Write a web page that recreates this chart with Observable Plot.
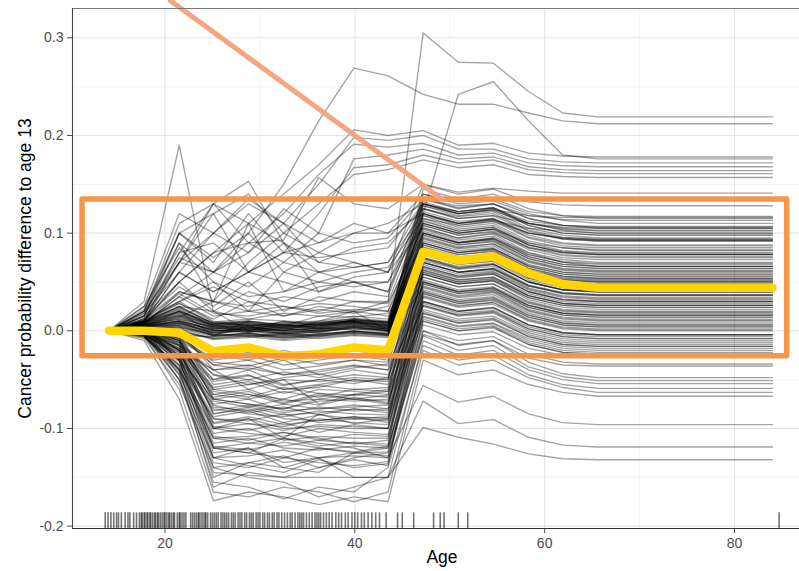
<!DOCTYPE html>
<html><head><meta charset="utf-8">
<script src="https://cdn.jsdelivr.net/npm/d3@7"></script>
<script src="https://cdn.jsdelivr.net/npm/@observablehq/plot@0.6"></script>
<style>body{margin:0;background:#fff;}</style>
</head><body><div id="chart"></div>
<script>
// ICE grid (age values where every curve is evaluated)
const ageGrid = [14.1,17.8,21.5,25.1,28.8,32.5,36.2,39.9,43.5,47.2,50.9,54.6,58.3,61.9,65.6,69.3,73.0,76.6,80.3,84.0];

// Individual conditional expectation curves (difference to age 13)
const iceCurves = [
[0,.004,.02,-.005,.01,.005,.015,.02,.03,.305,.275,.274,.245,.223,.219,.219,.219,.219,.219,.219],
[0,.008,.035,.06,.1,.15,.215,.269,.261,.242,.232,.232,.223,.215,.212,.212,.212,.212,.212,.212],
[0,.01,.05,.08,.11,.14,.17,.206,.2,.205,.19,.192,.182,.179,.178,.178,.178,.178,.178,.178],
[0,.012,.07,.1,.13,.11,.15,.198,.195,.2,.186,.186,.176,.173,.172,.172,.172,.172,.172,.172],
[0,.015,.09,.06,.09,.12,.16,.191,.188,.192,.18,.182,.172,.169,.168,.168,.168,.168,.168,.168],
[0,.02,.11,.13,.09,.07,.1,.176,.18,.186,.176,.178,.168,.165,.164,.164,.164,.164,.164,.164],
[0,.01,.06,.04,.06,.08,.12,.167,.17,.18,.172,.175,.165,.162,.161,.161,.161,.161,.161,.161],
[0,.006,.04,.03,.07,.1,.13,.16,.165,.175,.167,.17,.16,.158,.157,.157,.157,.157,.157,.157],
[0,.005,.01,-.005,.005,0,.01,.02,0,.12,.242,.255,.215,.18,.176,.176,.176,.176,.176,.176],
[0,.03,.19,.02,0,.01,.005,.01,0,.1,.09,.095,.08,.07,.066,.066,.066,.066,.066,.066],
[0,.01,.07,.13,.153,.09,.06,.07,.06,.15,.14,.145,.132,.129,.128,.128,.128,.128,.128,.128],
[0,.01,.05,.08,.09,.093,.157,.13,.125,.15,.142,.146,.143,.141,.141,.141,.141,.141,.141,.141],
[0,.015,.1,.12,.14,.1,.08,.1,.11,.13,.12,.124,.118,.116,.116,.116,.116,.116,.116,.116],
[0,.01,.08,.13,.11,.09,.07,.085,.09,.125,.115,.118,.11,.106,.105,.105,.105,.105,.105,.105],
[0,.02,.1,.07,.12,.08,.09,.11,.1,.12,.11,.113,.105,.102,.1,.1,.1,.1,.1,.1],
[0,-.005,-.05,-.145,-.148,-.15,-.15,-.15,-.15,-.099,-.109,-.116,-.126,-.131,-.132,-.132,-.132,-.132,-.132,-.132],
[0,0,-.04,-.13,-.12,-.14,-.13,-.15,-.15,-.072,-.095,-.091,-.109,-.117,-.119,-.119,-.119,-.119,-.119,-.119],
[0,.005,-.03,-.12,-.125,-.11,-.115,-.12,-.13,-.056,-.073,-.067,-.085,-.094,-.096,-.096,-.096,-.096,-.096,-.096],
[0,-.01,-.07,-.174,-.165,-.17,-.178,-.17,-.175,-.03,-.045,-.04,-.055,-.063,-.067,-.067,-.067,-.067,-.067,-.067],
[0,-.005,-.06,-.165,-.17,-.16,-.165,-.175,-.165,-.02,-.035,-.03,-.048,-.058,-.063,-.063,-.063,-.063,-.063,-.063],
[0,0,-.05,-.155,-.16,-.172,-.16,-.165,-.14,-.015,-.03,-.025,-.045,-.055,-.059,-.059,-.059,-.059,-.059,-.059],
[0,-.008,-.055,-.14,-.15,-.155,-.17,-.16,-.15,-.01,-.025,-.02,-.04,-.05,-.054,-.054,-.054,-.054,-.054,-.054],
[0,.002,-.045,-.16,-.145,-.15,-.14,-.13,-.125,-.005,-.02,-.015,-.037,-.047,-.051,-.051,-.051,-.051,-.051,-.051],
[0,-.003,-.04,-.15,-.135,-.14,-.145,-.125,-.12,0,-.015,-.01,-.032,-.044,-.048,-.048,-.048,-.048,-.048,-.048],
[0,.005,.01,.002,.004,-.003,.001,.006,.003,.145,.135,.14,.125,.118,.115,.115,.115,.115,.115,.115],
[0,.008,.02,.006,0,.004,.008,.01,.005,.14,.13,.133,.12,.113,.11,.11,.11,.11,.11,.11],
[0,.002,.005,-.004,.002,0,-.002,.004,0,.135,.125,.13,.115,.108,.105,.105,.105,.105,.105,.105],
[0,.01,.025,.008,.01,.006,.004,.012,.009,.13,.122,.126,.11,.103,.1,.1,.1,.1,.1,.1],
[0,0,-.005,-.006,-.002,-.008,-.004,0,-.003,.128,.118,.122,.105,.098,.095,.095,.095,.095,.095,.095],
[0,.006,.015,.003,.006,.002,.005,.008,.006,.125,.115,.118,.102,.094,.092,.092,.092,.092,.092,.092],
[0,.012,.03,.01,.005,.008,.01,.015,.012,.122,.112,.115,.098,.09,.088,.088,.088,.088,.088,.088],
[0,.004,.008,-.002,0,-.005,-.001,.003,.001,.12,.108,.112,.095,.087,.085,.085,.085,.085,.085,.085],
[0,.003,0,-.008,-.006,-.01,-.007,-.004,-.006,.118,.106,.11,.092,.085,.082,.082,.082,.082,.082,.082],
[0,.007,.018,.005,.008,.003,.006,.009,.004,.115,.104,.108,.09,.082,.08,.08,.08,.08,.08,.08],
[0,.009,.022,.004,.002,.007,.003,.011,.008,.113,.102,.106,.088,.08,.078,.078,.078,.078,.078,.078],
[0,.001,.004,-.003,-.005,-.002,-.006,0,-.004,.11,.1,.104,.085,.077,.075,.075,.075,.075,.075,.075],
[0,.006,.012,0,.003,.001,.002,.005,.002,.108,.098,.101,.083,.075,.073,.073,.073,.073,.073,.073],
[0,.011,.028,.009,.012,.01,.008,.013,.01,.106,.095,.099,.08,.073,.07,.07,.07,.07,.07,.07],
[0,.002,.006,-.005,-.003,-.007,-.004,-.001,-.002,.104,.093,.097,.078,.07,.068,.068,.068,.068,.068,.068],
[0,.005,.014,.002,.005,0,.004,.007,.003,.102,.091,.095,.076,.068,.066,.066,.066,.066,.066,.066],
[0,.008,.02,.006,.003,.005,.007,.01,.007,.1,.09,.093,.074,.066,.064,.064,.064,.064,.064,.064],
[0,0,-.002,-.007,-.004,-.009,-.005,-.002,-.005,.098,.088,.091,.072,.064,.062,.062,.062,.062,.062,.062],
[0,.004,.009,.001,0,-.002,.001,.004,0,.096,.086,.089,.07,.062,.06,.06,.06,.06,.06,.06],
[0,.01,.024,.007,.009,.005,.006,.011,.008,.094,.084,.087,.068,.06,.058,.058,.058,.058,.058,.058],
[0,.003,.007,-.001,.002,-.004,0,.002,-.001,.092,.082,.085,.066,.058,.056,.056,.056,.056,.056,.056],
[0,.006,.016,.004,.007,.002,.005,.008,.005,.09,.08,.083,.064,.056,.054,.054,.054,.054,.054,.054],
[0,.001,.002,-.006,-.003,-.006,-.003,0,-.003,.088,.078,.081,.062,.054,.052,.052,.052,.052,.052,.052],
[0,.007,.019,.005,.004,.006,.003,.009,.006,.086,.076,.079,.06,.052,.05,.05,.05,.05,.05,.05],
[0,.004,.011,0,.002,0,.002,.005,.002,.084,.074,.077,.058,.05,.048,.048,.048,.048,.048,.048],
[0,.009,.023,.008,.006,.007,.009,.012,.009,.082,.072,.075,.056,.048,.046,.046,.046,.046,.046,.046],
[0,.002,.003,-.004,-.006,-.003,-.005,-.002,-.004,.08,.07,.073,.054,.046,.044,.044,.044,.044,.044,.044],
[0,.005,.013,.003,.001,.004,.002,.006,.004,.078,.068,.071,.052,.044,.042,.042,.042,.042,.042,.042],
[0,.008,.021,.006,.008,.004,.007,.01,.006,.075,.066,.069,.05,.042,.04,.04,.04,.04,.04,.04],
[0,.003,.008,-.002,0,-.003,-.001,.003,0,.072,.063,.066,.047,.039,.037,.037,.037,.037,.037,.037],
[0,.006,.015,.002,.004,.001,.003,.007,.003,.07,.06,.063,.044,.036,.034,.034,.034,.034,.034,.034],
[0,.001,.001,-.008,-.005,-.007,-.006,-.003,-.005,.066,.056,.059,.04,.032,.03,.03,.03,.03,.03,.03],
[0,.007,.017,.004,.006,.003,.005,.009,.005,.062,.052,.055,.036,.028,.026,.026,.026,.026,.026,.026],
[0,.004,.01,.001,-.001,.002,0,.004,.001,.058,.048,.051,.032,.024,.022,.022,.022,.022,.022,.022],
[0,.009,.025,.007,.01,.006,.008,.012,.008,.055,.045,.048,.029,.021,.019,.019,.019,.019,.019,.019],
[0,.012,.04,.03,.025,.035,.03,.04,.035,.13,.12,.124,.108,.1,.098,.098,.098,.098,.098,.098],
[0,.015,.05,.02,.04,.03,.045,.05,.04,.135,.126,.13,.115,.108,.106,.106,.106,.106,.106,.106],
[0,.01,.03,.05,.035,.04,.05,.045,.05,.125,.117,.12,.103,.096,.094,.094,.094,.094,.094,.094],
[0,.018,.06,.04,.06,.05,.04,.055,.06,.128,.12,.123,.11,.104,.102,.102,.102,.102,.102,.102],
[0,.008,.035,.015,.02,.025,.018,.022,.02,.11,.1,.104,.088,.081,.079,.079,.079,.079,.079,.079],
[0,.02,.07,.06,.045,.07,.06,.065,.07,.12,.11,.115,.1,.094,.092,.092,.092,.092,.092,.092],
[0,.013,.045,.025,.05,.02,.035,.03,.028,.1,.09,.094,.078,.071,.069,.069,.069,.069,.069,.069],
[0,.016,.08,.09,.06,.08,.075,.08,.085,.13,.122,.126,.112,.108,.107,.107,.107,.107,.107,.107],
[0,.022,.1,.075,.1,.06,.05,.06,.065,.115,.108,.112,.1,.095,.093,.093,.093,.093,.093,.093],
[0,.011,.038,.018,.015,.022,.028,.025,.02,.09,.08,.084,.067,.06,.058,.058,.058,.058,.058,.058],
[0,.025,.12,.1,.08,.11,.09,.1,.1,.14,.132,.135,.122,.118,.117,.117,.117,.117,.117,.117],
[0,.009,.028,.012,.03,.015,.025,.02,.015,.085,.075,.078,.062,.055,.053,.053,.053,.053,.053,.053],
[0,.02,.09,.03,.11,.04,.06,.05,.04,.12,.11,.114,.1,.095,.093,.093,.093,.093,.093,.093],
[0,.015,.07,.12,.06,.09,.04,.05,.05,.11,.1,.104,.09,.085,.083,.083,.083,.083,.083,.083],
[0,.025,.085,.05,.02,.06,.08,.07,.06,.105,.095,.1,.085,.08,.078,.078,.078,.078,.078,.078],
[0,.01,.06,.1,.135,.11,.07,.065,.07,.13,.12,.125,.11,.105,.103,.103,.103,.103,.103,.103],
[0,.018,.075,.06,.08,.125,.1,.09,.095,.135,.128,.13,.118,.114,.113,.113,.113,.113,.113,.113],
[0,0,-.01,-.03,-.025,-.035,-.03,-.025,-.03,.07,.06,.064,.046,.038,.036,.036,.036,.036,.036,.036],
[0,.004,0,-.04,-.035,-.045,-.04,-.035,-.04,.065,.055,.058,.04,.032,.03,.03,.03,.03,.03,.03],
[0,-.002,-.015,-.05,-.04,-.055,-.05,-.045,-.048,.06,.05,.053,.036,.028,.026,.026,.026,.026,.026,.026],
[0,.003,-.005,-.055,-.05,-.06,-.058,-.05,-.055,.055,.045,.048,.03,.022,.02,.02,.02,.02,.02,.02],
[0,-.004,-.02,-.06,-.065,-.07,-.06,-.062,-.065,.05,.04,.043,.026,.018,.016,.016,.016,.016,.016,.016],
[0,.002,-.01,-.065,-.06,-.072,-.07,-.065,-.068,.046,.036,.04,.022,.014,.012,.012,.012,.012,.012,.012],
[0,-.006,-.03,-.07,-.075,-.08,-.072,-.07,-.075,.042,.032,.035,.018,.01,.008,.008,.008,.008,.008,.008],
[0,.001,-.012,-.075,-.07,-.082,-.08,-.076,-.08,.038,.028,.031,.014,.006,.004,.004,.004,.004,.004,.004],
[0,-.003,-.025,-.08,-.085,-.088,-.082,-.085,-.086,.034,.024,.027,.01,.002,0,0,0,0,0,0],
[0,.005,-.008,-.085,-.08,-.09,-.092,-.088,-.09,.03,.02,.023,.006,-.002,-.004,-.004,-.004,-.004,-.004,-.004],
[0,-.007,-.035,-.09,-.095,-.098,-.09,-.094,-.096,.026,.016,.019,.002,-.006,-.008,-.008,-.008,-.008,-.008,-.008],
[0,0,-.018,-.095,-.09,-.1,-.098,-.1,-.1,.022,.012,.015,-.002,-.01,-.012,-.012,-.012,-.012,-.012,-.012],
[0,-.002,-.028,-.1,-.105,-.108,-.1,-.104,-.106,.018,.008,.011,-.006,-.014,-.016,-.016,-.016,-.016,-.016,-.016],
[0,.003,-.02,-.105,-.1,-.112,-.108,-.11,-.11,.014,.004,.007,-.01,-.018,-.02,-.02,-.02,-.02,-.02,-.02],
[0,-.005,-.04,-.11,-.115,-.118,-.112,-.115,-.118,.01,0,.003,-.014,-.022,-.024,-.024,-.024,-.024,-.024,-.024],
[0,.002,-.025,-.115,-.11,-.12,-.122,-.118,-.12,.006,-.004,-.001,-.018,-.025,-.026,-.026,-.026,-.026,-.026,-.026],
[0,-.004,-.045,-.12,-.125,-.13,-.12,-.125,-.128,0,-.01,-.006,-.024,-.032,-.034,-.034,-.034,-.034,-.034,-.034],
[0,.001,-.03,-.125,-.12,-.135,-.13,-.128,-.13,-.004,-.014,-.01,-.028,-.035,-.036,-.036,-.036,-.036,-.036,-.036],
[0,.006,.005,-.025,-.03,-.02,-.028,-.02,-.022,.085,.075,.078,.06,.052,.05,.05,.05,.05,.05,.05],
[0,.002,-.004,-.035,-.03,-.04,-.036,-.03,-.032,.09,.08,.084,.066,.058,.056,.056,.056,.056,.056,.056],
[0,-.001,-.012,-.045,-.05,-.042,-.048,-.04,-.045,.08,.07,.073,.055,.047,.045,.045,.045,.045,.045,.045],
[0,.004,-.006,-.06,-.055,-.05,-.052,-.048,-.05,.075,.065,.068,.05,.042,.04,.04,.04,.04,.04,.04],
[0,-.003,-.018,-.065,-.07,-.062,-.068,-.06,-.062,.068,.058,.061,.043,.035,.033,.033,.033,.033,.033,.033],
[0,.001,-.01,-.07,-.065,-.075,-.066,-.07,-.072,.062,.052,.055,.038,.03,.028,.028,.028,.028,.028,.028],
[0,-.005,-.022,-.078,-.082,-.075,-.08,-.078,-.076,.058,.048,.051,.034,.026,.024,.024,.024,.024,.024,.024],
[0,.003,-.014,-.085,-.078,-.086,-.084,-.08,-.084,.052,.042,.045,.028,.02,.018,.018,.018,.018,.018,.018],
[0,-.002,-.03,-.09,-.092,-.085,-.094,-.09,-.092,.048,.038,.041,.024,.016,.014,.014,.014,.014,.014,.014],
[0,0,-.02,-.1,-.095,-.102,-.096,-.098,-.1,.044,.034,.037,.02,.012,.01,.01,.01,.01,.01,.01],
[0,-.006,-.038,-.11,-.108,-.104,-.112,-.106,-.108,.04,.03,.033,.016,.008,.006,.006,.006,.006,.006,.006],
[0,.002,-.026,-.12,-.115,-.11,-.118,-.114,-.116,.036,.026,.029,.012,.004,.002,.002,.002,.002,.002,.002],
[0,-.004,-.05,-.13,-.128,-.122,-.13,-.125,-.124,.028,.018,.021,.004,-.004,-.006,-.006,-.006,-.006,-.006,-.006],
[0,.001,-.035,-.135,-.14,-.13,-.135,-.138,-.134,.02,.01,.013,-.004,-.012,-.014,-.014,-.014,-.014,-.014,-.014],
[0,-.003,-.04,-.1,-.09,-.11,-.085,-.095,-.09,.012,.002,.005,-.012,-.02,-.022,-.022,-.022,-.022,-.022,-.022],
[0,.005,-.01,-.05,-.045,-.06,-.055,-.05,-.052,.025,.015,.018,0,-.008,-.01,-.01,-.01,-.01,-.01,-.01],
[0,-.002,-.015,-.04,-.038,-.045,-.042,-.036,-.04,.03,.02,.024,.006,-.002,-.004,-.004,-.004,-.004,-.004,-.004],
[0,.003,-.008,-.07,-.075,-.08,-.07,-.072,-.07,.015,.005,.008,-.008,-.016,-.018,-.018,-.018,-.018,-.018,-.018],
[0,.003,-.006,-.035,-.04,-.03,-.045,-.038,-.034,.078,.068,.072,.054,.046,.044,.044,.044,.044,.044,.044],
[0,-.001,-.016,-.058,-.052,-.064,-.056,-.06,-.058,.07,.06,.063,.046,.038,.036,.036,.036,.036,.036,.036],
[0,.002,-.02,-.072,-.078,-.07,-.076,-.068,-.074,.06,.05,.054,.036,.028,.026,.026,.026,.026,.026,.026],
[0,-.004,-.026,-.088,-.082,-.094,-.086,-.09,-.088,.05,.04,.044,.026,.018,.016,.016,.016,.016,.016,.016],
[0,.001,-.015,-.098,-.102,-.094,-.104,-.096,-.1,.038,.028,.032,.014,.006,.004,.004,.004,.004,.004,.004],
[0,-.003,-.032,-.108,-.112,-.104,-.11,-.116,-.112,.03,.02,.024,.006,-.002,-.004,-.004,-.004,-.004,-.004,-.004],
[0,.004,-.01,-.045,-.055,-.048,-.044,-.052,-.05,.095,.085,.089,.071,.063,.061,.061,.061,.061,.061,.061],
[0,0,-.008,-.028,-.022,-.03,-.024,-.02,-.026,.1,.09,.094,.076,.068,.066,.066,.066,.066,.066,.066],
[0,.002,-.012,-.062,-.068,-.058,-.064,-.07,-.066,.088,.078,.082,.064,.056,.054,.054,.054,.054,.054,.054],
[0,-.002,-.022,-.082,-.076,-.084,-.078,-.082,-.08,.082,.072,.076,.058,.05,.048,.048,.048,.048,.048,.048],
[0,.001,-.028,-.094,-.088,-.096,-.092,-.088,-.094,.074,.064,.068,.05,.042,.04,.04,.04,.04,.04,.04],
[0,-.005,-.036,-.118,-.122,-.114,-.12,-.124,-.118,.066,.056,.06,.042,.034,.032,.032,.032,.032,.032,.032],
[0,.006,.012,.004,0,.006,.002,.008,.004,.112,.102,.106,.088,.08,.078,.078,.078,.078,.078,.078],
[0,.003,.006,-.002,.004,-.001,.003,.001,.003,.098,.088,.092,.074,.066,.064,.064,.064,.064,.064,.064],
[0,.005,.01,.001,-.002,.003,-.001,.005,.002,.085,.075,.079,.061,.053,.051,.051,.051,.051,.051,.051],
[0,.002,.004,-.005,-.002,-.006,-.003,-.001,-.004,.074,.064,.068,.05,.042,.04,.04,.04,.04,.04,.04],
[0,.007,.016,.006,.009,.004,.007,.01,.007,.064,.054,.058,.04,.032,.03,.03,.03,.03,.03,.03],
[0,.004,.008,0,.002,-.002,.001,.003,0,.05,.04,.044,.026,.018,.016,.016,.016,.016,.016,.016],
[0,.009,.02,.008,.005,.009,.006,.011,.009,.132,.122,.126,.108,.1,.098,.098,.098,.098,.098,.098],
[0,.001,0,-.009,-.007,-.004,-.008,-.005,-.007,.045,.035,.039,.021,.013,.011,.011,.011,.011,.011,.011],
[0,-.006,-.042,-.14,-.135,-.128,-.14,-.132,-.138,.035,.025,.029,.011,.003,.001,.001,.001,.001,.001,.001],
[0,.002,-.03,-.13,-.138,-.145,-.132,-.14,-.136,.01,0,.004,-.014,-.022,-.024,-.024,-.024,-.024,-.024,-.024],
[0,-.002,-.018,-.052,-.046,-.056,-.05,-.054,-.048,.04,.03,.034,.016,.008,.006,.006,.006,.006,.006,.006],
[0,.003,-.004,-.032,-.036,-.028,-.034,-.03,-.036,.048,.038,.042,.024,.016,.014,.014,.014,.014,.014,.014],
[0,0,-.014,-.068,-.062,-.074,-.064,-.066,-.062,.026,.016,.02,.002,-.006,-.008,-.008,-.008,-.008,-.008,-.008],
[0,-.004,-.024,-.076,-.084,-.078,-.086,-.08,-.082,.018,.008,.012,-.006,-.014,-.016,-.016,-.016,-.016,-.016,-.016],
[0,.005,.014,.03,.02,.015,.022,.018,.025,.108,.098,.102,.086,.078,.076,.076,.076,.076,.076,.076],
[0,.01,.03,.045,.03,.025,.02,.03,.03,.118,.11,.114,.096,.089,.087,.087,.087,.087,.087,.087],
[0,.008,.025,.02,.012,.018,.015,.014,.018,.07,.06,.064,.046,.039,.037,.037,.037,.037,.037,.037],
[0,-.002,-.02,-.04,-.06,-.05,-.075,-.065,-.06,.058,.048,.052,.034,.026,.024,.024,.024,.024,.024,.024]
];

// Average curve (yellow)
const meanCurve = [0,0,-.002,-.021,-.017,-.026,-.024,-.017,-.02,.081,.072,.076,.059,.048,.044,.044,.044,.044,.044,.044];

// Observed ages (rug)
const rugAges = [13.7,14.0,14.3,14.6,14.9,15.1,15.4,15.8,16.1,16.3,16.7,17.0,17.3,17.5,17.6,17.8,17.9,18.1,18.2,18.4,18.5,18.7,18.9,19.0,19.2,19.3,19.5,19.7,19.9,20.0,20.2,20.4,20.5,20.7,20.9,21.0,21.3,21.5,21.6,21.8,22.0,22.2,22.7,22.9,23.1,23.3,23.5,23.6,23.8,24.0,24.2,24.3,24.5,24.8,25.0,25.2,25.4,25.6,25.9,26.1,26.3,26.5,26.7,27.0,27.2,27.4,27.7,27.9,28.1,28.4,28.6,28.9,29.1,29.3,29.6,29.8,30.0,30.3,30.5,30.8,31.0,31.3,31.5,31.8,32.0,32.3,32.6,32.9,33.2,33.4,33.7,34.0,34.2,34.4,34.6,34.9,35.2,35.5,35.8,36.0,36.2,36.4,36.7,37.0,37.3,37.6,38.0,38.3,38.6,39.0,39.3,39.7,40.0,40.3,40.7,41.0,41.4,41.8,42.2,42.6,43.3,44.5,45.0,46.2,48.3,49.0,49.4,50.9,51.9,84.7];

// Axis ticks
const xTicks = [20,40,60,80];
const xMinor = [30,50,70];
const yTicks = [-0.2,-0.1,0,0.1,0.2,0.3];
const yMinor = [-0.15,-0.05,0.05,0.15,0.25];

// Annotations (data units)
const highlightBox = [{x1: 11.31, x2: 85.55, y1: -0.026, y2: 0.1344}];
const pointerLine = [{age: 20.58, v: 0.338}, {age: 49.2, v: 0.1348}];

const X0 = 10.255, X1 = 86.85, Y0 = -0.2024, Y1 = 0.33;

const rows = iceCurves.flatMap((c, i) => c.map((v, j) => ({id: i, age: ageGrid[j], value: v})));
const meanRows = meanCurve.map((v, j) => ({age: ageGrid[j], value: v}));

const chart = Plot.plot({
  width: 799, height: 571,
  marginTop: 8, marginBottom: 43, marginLeft: 72, marginRight: 0,
  style: {fontFamily: "'Liberation Sans', Arial, sans-serif", fontSize: "14px", color: "#4d4d4d", background: "#fff", overflow: "visible"},
  x: {domain: [X0, X1], ticks: xTicks, tickSize: 5, tickPadding: 5, label: null},
  y: {domain: [Y0, Y1], ticks: yTicks, tickSize: 5, tickPadding: 4, tickFormat: d => d.toFixed(1), label: null},
  marks: [
    Plot.ruleX(xMinor, {stroke: "#f1f1f1", strokeWidth: 0.8}),
    Plot.ruleY(yMinor, {stroke: "#f1f1f1", strokeWidth: 0.8}),
    Plot.ruleX(xTicks, {stroke: "#e4e4e4", strokeWidth: 1.1}),
    Plot.ruleY(yTicks, {stroke: "#e4e4e4", strokeWidth: 1.1}),
    Plot.line(rows, {x: "age", y: "value", z: "id", stroke: "#000", strokeOpacity: 0.36, strokeWidth: 1.35}),
    Plot.ruleX(rugAges, {x: d => d, y1: Y0, y2: Y0 + 0.016, stroke: "#000", strokeOpacity: 0.55, strokeWidth: 1.6}),
    Plot.line(meanRows, {x: "age", y: "value", stroke: "#FFD500", strokeWidth: 8.5, strokeLinejoin: "round"}),
    Plot.rect(highlightBox, {x1: "x1", x2: "x2", y1: "y1", y2: "y2", fill: "none", stroke: "#F79646", strokeWidth: 5.5, strokeLinejoin: "round"}),
    Plot.line(pointerLine, {x: "age", y: "v", stroke: "#F4A582", strokeWidth: 5}),
    Plot.ruleY([Y1], {stroke: "#777", strokeWidth: 1}),
    Plot.ruleX([X0], {stroke: "#444", strokeWidth: 1.1}),
    Plot.ruleY([Y0], {stroke: "#333", strokeWidth: 1.2}),
    Plot.text(["Age"], {frameAnchor: "bottom", dy: 34, dx: 6, fontSize: 17.5, fill: "#000"}),
    Plot.text(["Cancer probability difference to age 13"], {frameAnchor: "left", textAnchor: "middle", rotate: -90, dx: -47, fontSize: 17.5, fill: "#000"})
  ]
});
document.getElementById("chart").appendChild(chart);
</script>
</body></html>
